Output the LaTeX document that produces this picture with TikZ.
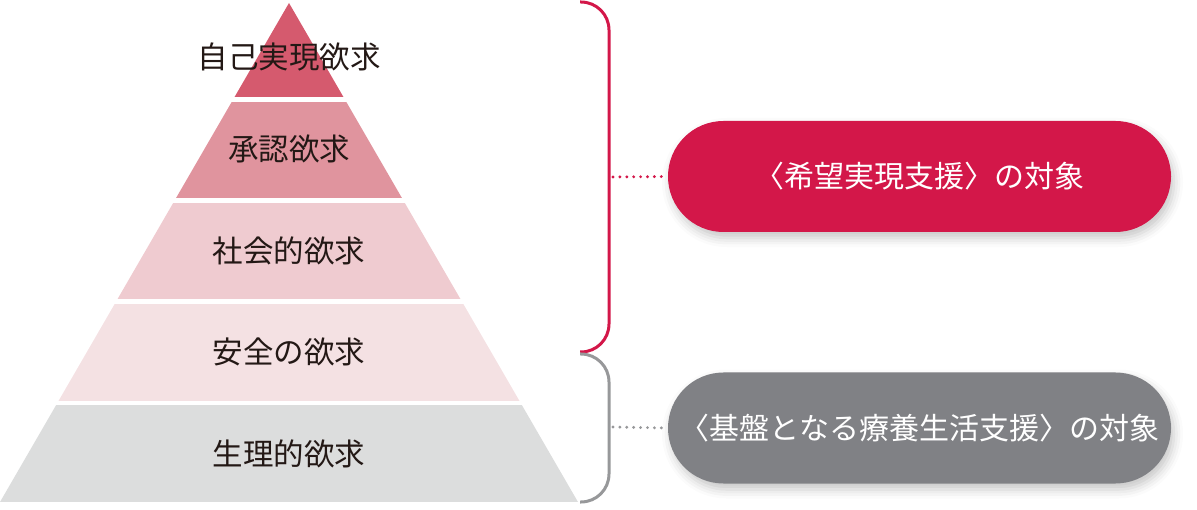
\documentclass[tikz,border=0pt]{standalone}
\usepackage{fontspec}
\newfontfamily\jp{Noto Sans CJK JP}
\usetikzlibrary{shadows.blur}
\definecolor{lay1}{HTML}{D55A6E}
\definecolor{lay2}{HTML}{E0949E}
\definecolor{lay3}{HTML}{EFCBD0}
\definecolor{lay4}{HTML}{F4E1E3}
\definecolor{lay5}{HTML}{DCDDDD}
\definecolor{hopered}{HTML}{D31749}
\definecolor{basegray}{HTML}{808185}
\definecolor{bracketgray}{HTML}{97989A}
\definecolor{txt}{HTML}{231815}
\tikzset{
  lvltext/.style={font=\jp\fontsize{30.5}{33}\selectfont, text=txt, inner sep=0pt},
  pill/.style={minimum width=503pt, minimum height=111pt, rounded corners=55.5pt,
    inner sep=0pt, text=white, font=\jp\fontsize{30}{33}\selectfont,
    blur shadow={shadow xshift=3pt, shadow yshift=-6pt, shadow blur radius=9pt, shadow opacity=22}},
  brace/.style={line width=3pt, rounded corners=28pt},
  dotline/.style={line width=3.2pt, line cap=round, dash pattern=on 0pt off 6.9pt}
}
\begin{document}
\begin{tikzpicture}[x=1pt,y=-1pt]
\useasboundingbox (0,0) rectangle (1197,510);
% pyramid
\begin{scope}
  \clip (289,3) -- (578,502) -- (0,502) -- cycle;
  \fill[lay1] (0,0) rectangle (600,97);
  \fill[lay2] (0,102) rectangle (600,198);
  \fill[lay3] (0,203) rectangle (600,299);
  \fill[lay4] (0,304) rectangle (600,401);
  \fill[lay5] (0,405) rectangle (600,502);
\end{scope}
\node[lvltext] (l1) at (289,57) {自己実現欲求};
\node[lvltext] (l2) at (289,149) {承認欲求};
\node[lvltext] (l3) at (289,251) {社会的欲求};
\node[lvltext] (l4) at (289,352) {安全の欲求};
\node[lvltext] (l5) at (289,454) {生理的欲求};
% brackets
\draw[brace, hopered] (580,2) -- (609,2) -- (609,352) -- (580,352);
\draw[brace, bracketgray] (580,354) -- (609,354) -- (609,502) -- (580,502);
\coordinate (rb) at (613,177);
\coordinate (gb) at (613,427);
% pills
\node[pill, fill=hopered] (hope) at (919.5,176.5) {〈希望実現支援〉の対象};
\node[pill, fill=basegray] (base) at (919.5,428) {〈基盤となる療養生活支援〉の対象};
% dotted connectors
\draw[dotline, hopered] (rb) -- (hope.west);
\draw[dotline, bracketgray] (gb) -- (base.west);
\end{tikzpicture}
\end{document}
